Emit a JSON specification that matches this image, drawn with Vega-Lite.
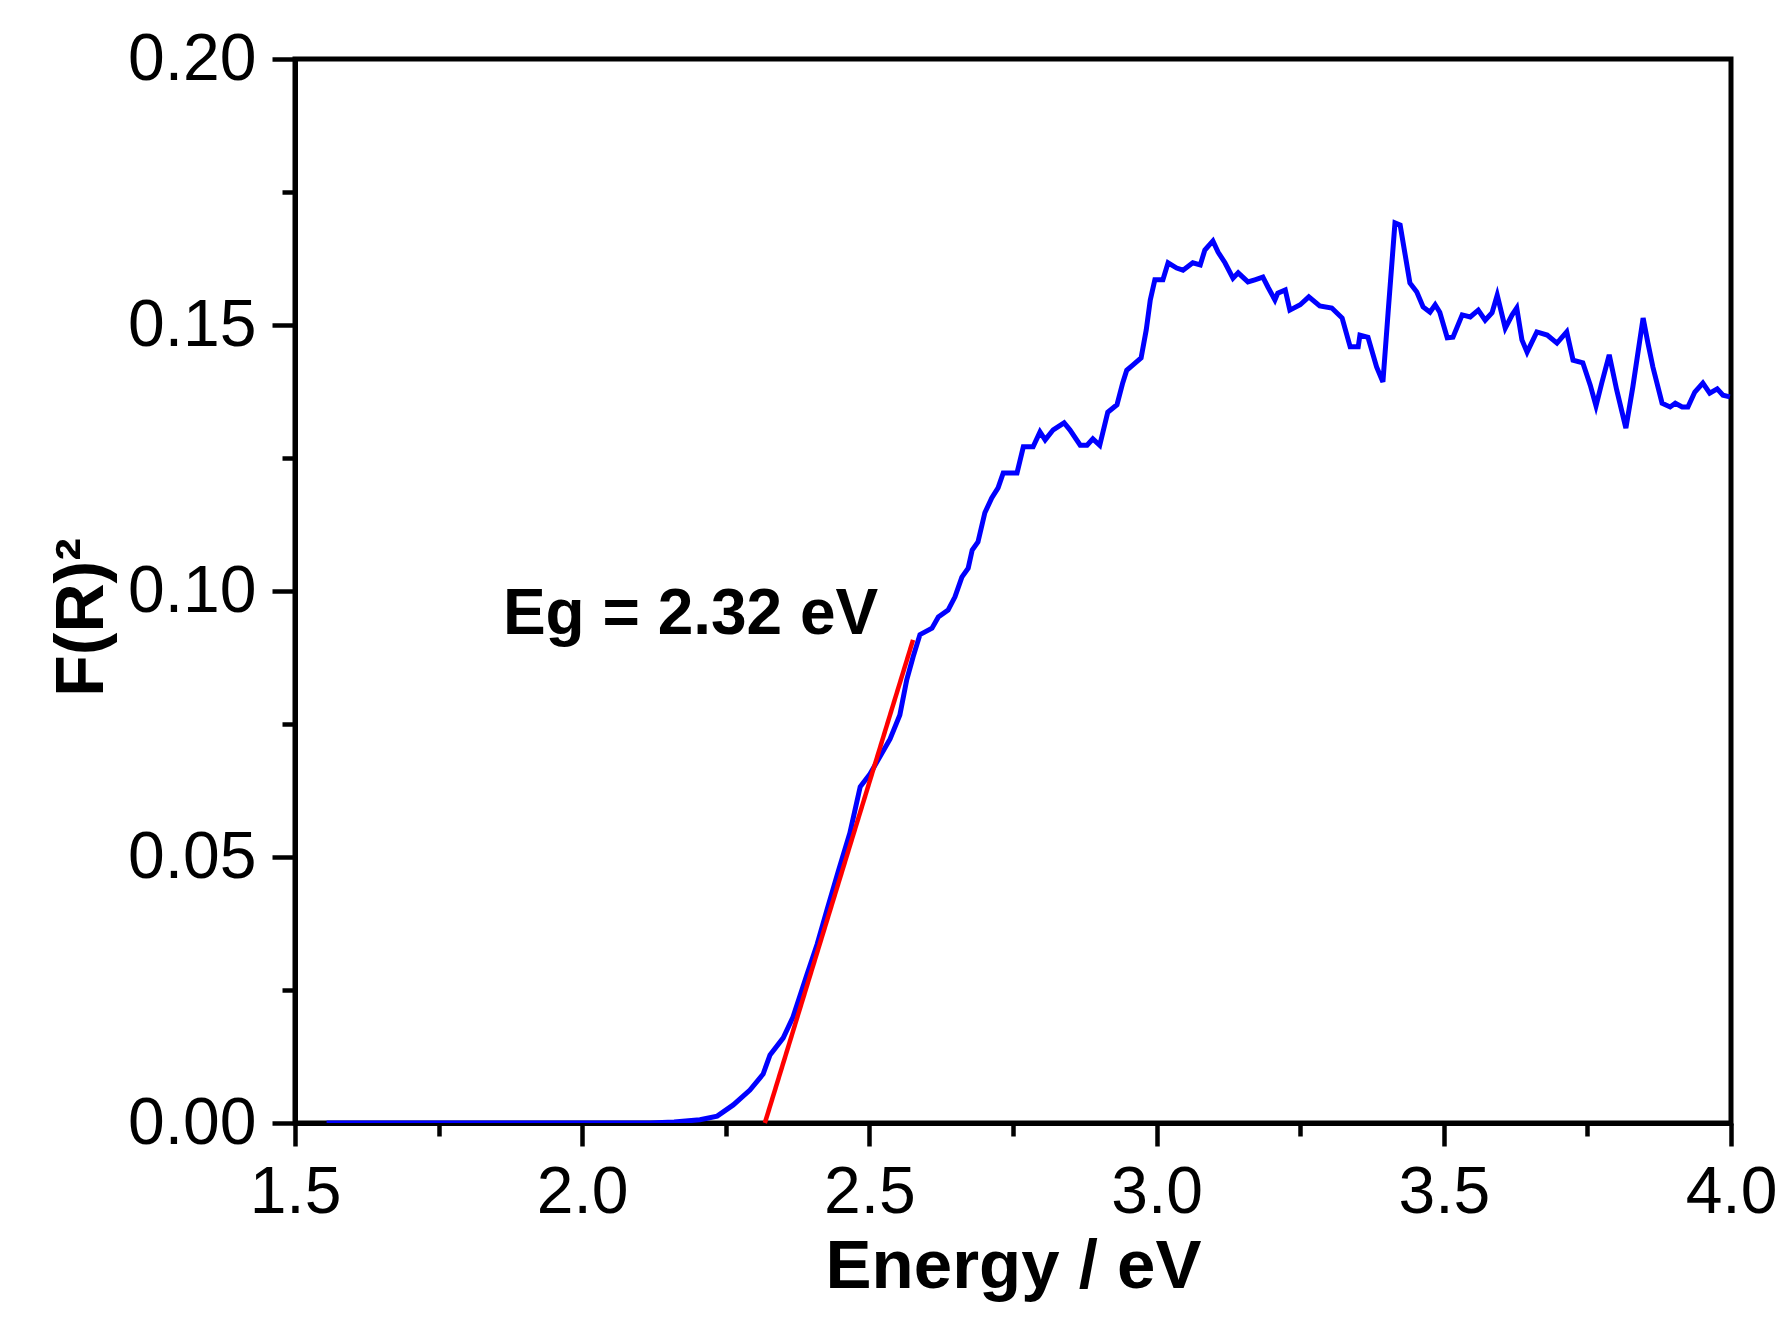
{
  "$schema": "https://vega.github.io/schema/vega-lite/v6.json",
  "width": 1436,
  "height": 1064,
  "autosize": {"type": "none"},
  "padding": {"left": 295, "top": 59, "right": 61, "bottom": 202},
  "background": "white",
  "config": {
    "font": "Liberation Sans",
    "view": {"stroke": "black", "strokeWidth": 5}
  },
  "datasets": {
    "spectrum": [
      {"energy": 1.555, "fr2": 0}, {"energy": 1.7, "fr2": 0}, {"energy": 1.9, "fr2": 0}, {"energy": 2.05, "fr2": 0},
      {"energy": 2.118, "fr2": 0}, {"energy": 2.16, "fr2": 0.0002}, {"energy": 2.205, "fr2": 0.0006}, {"energy": 2.235, "fr2": 0.0013},
      {"energy": 2.263, "fr2": 0.0034}, {"energy": 2.292, "fr2": 0.0062}, {"energy": 2.315, "fr2": 0.0092}, {"energy": 2.327, "fr2": 0.0128},
      {"energy": 2.35, "fr2": 0.016}, {"energy": 2.367, "fr2": 0.0199}, {"energy": 2.391, "fr2": 0.0278}, {"energy": 2.409, "fr2": 0.0336},
      {"energy": 2.426, "fr2": 0.04}, {"energy": 2.446, "fr2": 0.0474}, {"energy": 2.466, "fr2": 0.0545}, {"energy": 2.484, "fr2": 0.0632},
      {"energy": 2.501, "fr2": 0.0656}, {"energy": 2.518, "fr2": 0.0688}, {"energy": 2.536, "fr2": 0.0722}, {"energy": 2.553, "fr2": 0.0767},
      {"energy": 2.565, "fr2": 0.0833}, {"energy": 2.576, "fr2": 0.0876}, {"energy": 2.588, "fr2": 0.0918}, {"energy": 2.609, "fr2": 0.093},
      {"energy": 2.62, "fr2": 0.0951}, {"energy": 2.637, "fr2": 0.0964}, {"energy": 2.649, "fr2": 0.0989}, {"energy": 2.661, "fr2": 0.1026},
      {"energy": 2.672, "fr2": 0.1043}, {"energy": 2.679, "fr2": 0.1077}, {"energy": 2.689, "fr2": 0.1092}, {"energy": 2.701, "fr2": 0.1147},
      {"energy": 2.713, "fr2": 0.1175}, {"energy": 2.724, "fr2": 0.1194}, {"energy": 2.733, "fr2": 0.1222}, {"energy": 2.757, "fr2": 0.1222},
      {"energy": 2.768, "fr2": 0.1271}, {"energy": 2.785, "fr2": 0.1271}, {"energy": 2.797, "fr2": 0.1299}, {"energy": 2.806, "fr2": 0.1284},
      {"energy": 2.82, "fr2": 0.1303}, {"energy": 2.839, "fr2": 0.1316}, {"energy": 2.849, "fr2": 0.1303}, {"energy": 2.867, "fr2": 0.1274},
      {"energy": 2.879, "fr2": 0.1274}, {"energy": 2.889, "fr2": 0.1286}, {"energy": 2.901, "fr2": 0.1274}, {"energy": 2.915, "fr2": 0.1336},
      {"energy": 2.931, "fr2": 0.135}, {"energy": 2.941, "fr2": 0.1391}, {"energy": 2.948, "fr2": 0.1415}, {"energy": 2.959, "fr2": 0.1425},
      {"energy": 2.973, "fr2": 0.1438}, {"energy": 2.982, "fr2": 0.1491}, {"energy": 2.989, "fr2": 0.1547}, {"energy": 2.997, "fr2": 0.1585},
      {"energy": 3.011, "fr2": 0.1585}, {"energy": 3.02, "fr2": 0.1617}, {"energy": 3.035, "fr2": 0.1607}, {"energy": 3.046, "fr2": 0.1603},
      {"energy": 3.063, "fr2": 0.1617}, {"energy": 3.076, "fr2": 0.1613}, {"energy": 3.084, "fr2": 0.1641}, {"energy": 3.098, "fr2": 0.1658},
      {"energy": 3.107, "fr2": 0.1637}, {"energy": 3.119, "fr2": 0.1617}, {"energy": 3.133, "fr2": 0.1588}, {"energy": 3.142, "fr2": 0.1598},
      {"energy": 3.159, "fr2": 0.1581}, {"energy": 3.171, "fr2": 0.1585}, {"energy": 3.185, "fr2": 0.159}, {"energy": 3.194, "fr2": 0.1571},
      {"energy": 3.206, "fr2": 0.1547}, {"energy": 3.211, "fr2": 0.156}, {"energy": 3.224, "fr2": 0.1566}, {"energy": 3.232, "fr2": 0.1528},
      {"energy": 3.25, "fr2": 0.1538}, {"energy": 3.265, "fr2": 0.1553}, {"energy": 3.284, "fr2": 0.1536}, {"energy": 3.305, "fr2": 0.1532},
      {"energy": 3.323, "fr2": 0.1513}, {"energy": 3.337, "fr2": 0.1459}, {"energy": 3.351, "fr2": 0.1459}, {"energy": 3.354, "fr2": 0.1481},
      {"energy": 3.368, "fr2": 0.1477}, {"energy": 3.383, "fr2": 0.1421}, {"energy": 3.394, "fr2": 0.1393}, {"energy": 3.403, "fr2": 0.1523},
      {"energy": 3.415, "fr2": 0.1692}, {"energy": 3.424, "fr2": 0.1688}, {"energy": 3.441, "fr2": 0.1579}, {"energy": 3.453, "fr2": 0.1562},
      {"energy": 3.464, "fr2": 0.1534}, {"energy": 3.476, "fr2": 0.1524}, {"energy": 3.485, "fr2": 0.1538}, {"energy": 3.493, "fr2": 0.1524},
      {"energy": 3.506, "fr2": 0.1476}, {"energy": 3.516, "fr2": 0.1477}, {"energy": 3.532, "fr2": 0.1519}, {"energy": 3.546, "fr2": 0.1515},
      {"energy": 3.56, "fr2": 0.1528}, {"energy": 3.572, "fr2": 0.1509}, {"energy": 3.584, "fr2": 0.1523}, {"energy": 3.593, "fr2": 0.1556},
      {"energy": 3.607, "fr2": 0.1494}, {"energy": 3.619, "fr2": 0.1519}, {"energy": 3.627, "fr2": 0.1532}, {"energy": 3.636, "fr2": 0.1472},
      {"energy": 3.645, "fr2": 0.1449}, {"energy": 3.662, "fr2": 0.1487}, {"energy": 3.68, "fr2": 0.1481}, {"energy": 3.697, "fr2": 0.1466},
      {"energy": 3.714, "fr2": 0.1487}, {"energy": 3.725, "fr2": 0.1434}, {"energy": 3.742, "fr2": 0.1429}, {"energy": 3.755, "fr2": 0.1387},
      {"energy": 3.765, "fr2": 0.1348}, {"energy": 3.775, "fr2": 0.1391}, {"energy": 3.788, "fr2": 0.1444}, {"energy": 3.801, "fr2": 0.1378},
      {"energy": 3.817, "fr2": 0.1306}, {"energy": 3.829, "fr2": 0.1383}, {"energy": 3.847, "fr2": 0.1513}, {"energy": 3.855, "fr2": 0.1468},
      {"energy": 3.864, "fr2": 0.1421}, {"energy": 3.88, "fr2": 0.1353}, {"energy": 3.894, "fr2": 0.1346}, {"energy": 3.903, "fr2": 0.1353},
      {"energy": 3.915, "fr2": 0.1346}, {"energy": 3.925, "fr2": 0.1346}, {"energy": 3.937, "fr2": 0.1374}, {"energy": 3.951, "fr2": 0.1391},
      {"energy": 3.963, "fr2": 0.1372}, {"energy": 3.976, "fr2": 0.138}, {"energy": 3.986, "fr2": 0.1368}, {"energy": 3.998, "fr2": 0.1365}
    ],
    "fit": [
      {"energy": 2.318, "fr2": 0},
      {"energy": 2.576, "fr2": 0.0908}
    ],
    "note": [
      {"energy": 1.862, "fr2": 0.0919, "text": "Eg = 2.32 eV"}
    ]
  },
  "layer": [
    {
      "data": {"name": "spectrum"},
      "mark": {"type": "line", "color": "#0000ff", "strokeWidth": 5, "clip": true},
      "encoding": {
        "x": {
          "field": "energy", "type": "quantitative",
          "scale": {"domain": [1.5, 4.0], "nice": false, "zero": false},
          "axis": {
            "values": [1.5, 1.75, 2.0, 2.25, 2.5, 2.75, 3.0, 3.25, 3.5, 3.75, 4.0],
            "labelExpr": "abs(datum.value*2-round(datum.value*2))<0.001 ? format(datum.value,'.1f') : ''",
            "tickSize": {"condition": {"test": "abs(datum.value*2-round(datum.value*2))<0.001", "value": 23}, "value": 13},
            "tickWidth": 4.5, "tickColor": "black",
            "domainWidth": 5, "domainColor": "black",
            "grid": false,
            "labelFontSize": 66, "labelColor": "black", "labelPadding": 14,
            "labelOverlap": false, "labelFlush": false,
            "title": "Energy / eV", "titleFontSize": 69, "titleFontWeight": "bold", "titleColor": "black",
            "titleBaseline": "alphabetic", "titleY": 164
          }
        },
        "y": {
          "field": "fr2", "type": "quantitative",
          "scale": {"domain": [0, 0.2], "nice": false},
          "axis": {
            "values": [0, 0.025, 0.05, 0.075, 0.1, 0.125, 0.15, 0.175, 0.2],
            "labelExpr": "abs(datum.value*20-round(datum.value*20))<0.001 ? format(datum.value,'.2f') : ''",
            "tickSize": {"condition": {"test": "abs(datum.value*20-round(datum.value*20))<0.001", "value": 23}, "value": 13},
            "tickWidth": 4.5, "tickColor": "black",
            "domainWidth": 5, "domainColor": "black",
            "grid": false,
            "labelFontSize": 66, "labelColor": "black", "labelPadding": 16,
            "labelOverlap": false, "labelFlush": false,
            "title": "F(R)²", "titleFontSize": 68, "titleFontWeight": "bold", "titleColor": "black",
            "titleAngle": 270, "titleAlign": "center", "titleBaseline": "alphabetic",
            "titleX": -193, "titleY": 558
          }
        }
      }
    },
    {
      "data": {"name": "fit"},
      "mark": {"type": "line", "color": "#ff0000", "strokeWidth": 4.5},
      "encoding": {
        "x": {"field": "energy", "type": "quantitative"},
        "y": {"field": "fr2", "type": "quantitative"}
      }
    },
    {
      "data": {"name": "note"},
      "mark": {"type": "text", "align": "left", "baseline": "alphabetic", "fontSize": 64, "fontWeight": "bold", "color": "black", "font": "Liberation Sans"},
      "encoding": {
        "x": {"field": "energy", "type": "quantitative"},
        "y": {"field": "fr2", "type": "quantitative"},
        "text": {"field": "text"}
      }
    }
  ]
}
